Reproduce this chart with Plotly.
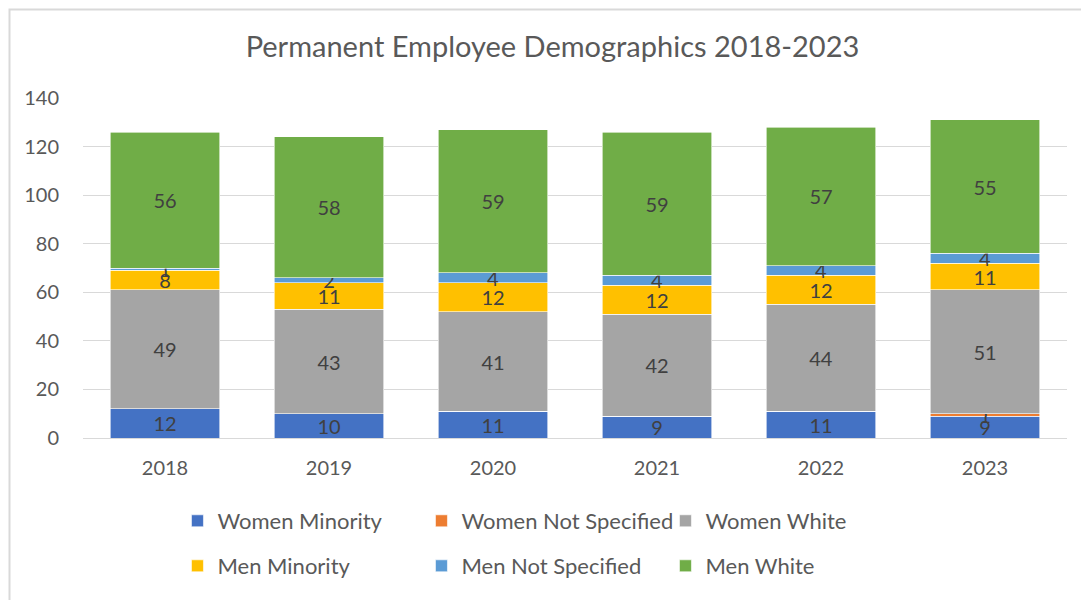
import plotly.graph_objects as go

years = ["2018", "2019", "2020", "2021", "2022", "2023"]

women_minority = [12, 10, 11, 9, 11, 9]
women_not_specified = [0, 0, 0, 0, 0, 1]
women_white = [49, 43, 41, 42, 44, 51]
men_minority = [8, 11, 12, 12, 12, 11]
men_not_specified = [1, 2, 4, 4, 4, 4]
men_white = [56, 58, 59, 59, 57, 55]

series = [
    ("Women Minority", women_minority, "#4472C4", "legend"),
    ("Women Not Specified", women_not_specified, "#ED7D31", "legend"),
    ("Women White", women_white, "#A5A5A5", "legend"),
    ("Men Minority", men_minority, "#FFC000", "legend2"),
    ("Men Not Specified", men_not_specified, "#5B9BD5", "legend2"),
    ("Men White", men_white, "#70AD47", "legend2"),
]

FONT = "Lato"
TXT = "#404040"

fig = go.Figure()
for name, vals, color, leg in series:
    fig.add_trace(go.Bar(
        name=name, x=years, y=vals,
        marker=dict(color=color, line=dict(color="white", width=0.6)),
        text=[str(v) if v else "" for v in vals],
        textposition="inside", insidetextanchor="middle", textangle=0,
        constraintext="none", cliponaxis=False,
        textfont=dict(family=FONT, size=20, color=TXT),
        legend=leg,
    ))

leg_common = dict(
    orientation="h", entrywidth=199, entrywidthmode="pixels",
    font=dict(family=FONT, size=22, color="#595959"),
    xanchor="left", yanchor="middle", bgcolor="rgba(0,0,0,0)",
    traceorder="normal",
)

# the page adds an 8px body offset, margins are set so the plot area lands at x 83-1067, y 98-438
fig.update_layout(
    width=1089, height=600,
    margin=dict(l=75, r=30, t=90, b=170),
    paper_bgcolor="white", plot_bgcolor="white",
    barmode="stack", bargap=0.335,
    uniformtext=dict(minsize=20, mode="show"),
    title=dict(text="Permanent Employee Demographics 2018-2023",
               x=0.5, xanchor="center", y=1 - 39 / 600, yanchor="middle",
               font=dict(family=FONT, size=29, color="#595959")),
    legend=dict(x=0.096, y=(438 - 521) / 340, **leg_common),
    legend2=dict(x=0.096, y=(438 - 566) / 340, **leg_common),
    showlegend=True,
)

fig.update_yaxes(range=[0, 140], dtick=20, showgrid=True, gridcolor="#D9D9D9",
                 gridwidth=1, zeroline=False, ticks="", ticklabelstandoff=23,
                 tickfont=dict(family=FONT, size=20, color="#595959"))
fig.update_xaxes(showline=True, linecolor="#D9D9D9", linewidth=1, ticks="",
                 ticklabelstandoff=12,
                 tickfont=dict(family=FONT, size=20, color="#595959"))

# chart frame (only top and left edges are visible in the reference crop)
fig.add_shape(type="rect", xref="paper", yref="paper",
              x0=(9.5 - 83) / 984, x1=(1120 - 83) / 984,
              y0=(438 - 640) / 340, y1=(438 - 9.5) / 340,
              line=dict(color="#D9D9D9", width=2), layer="above")

fig.write_html("out.html")
